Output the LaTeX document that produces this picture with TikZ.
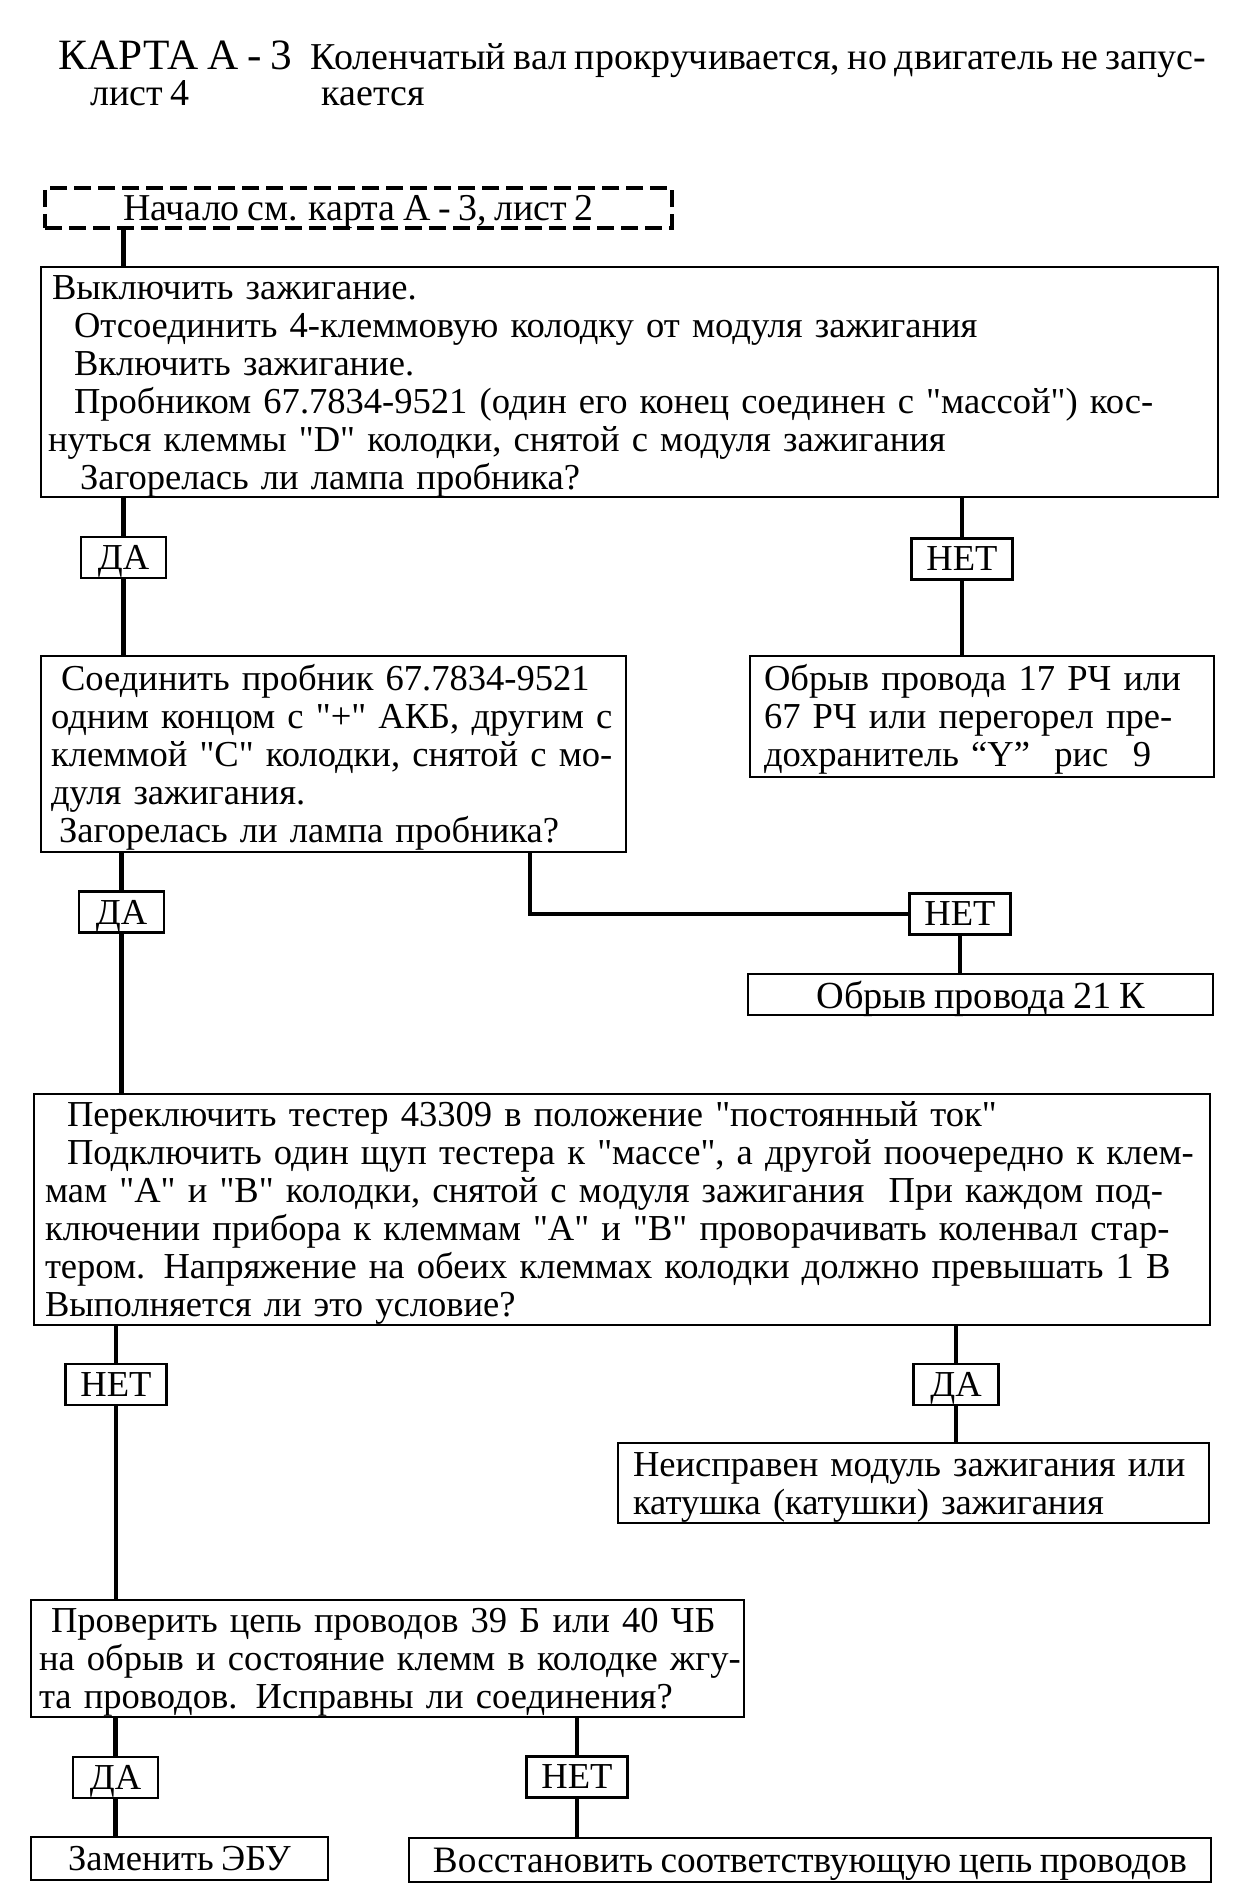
\documentclass[tikz,border=0pt]{standalone}
\usepackage{fontspec}
\setmainfont{Liberation Serif}[Ligatures=TeXOff, WordSpace=0.8]
\usepackage{tikz}
\usetikzlibrary{calc}
\usetikzlibrary{positioning}
\newcommand{\cardfont}{\fontsize{10.4}{10.8}\selectfont}
\newcommand{\widefont}{\fontsize{10.8}{11}\selectfont}
\tikzset{
    % рамка с текстом шага (отступы строк задаются вручную)
    stepbox/.style={
        draw,
        rectangle,
        line width=0.7pt,
        inner xsep=0pt,
        inner ysep=0pt,
        text height=9.2pt,
        align=left,
        font=\cardfont
    },
    % рамка с текстом по центру
    endbox/.style={
        draw,
        rectangle,
        line width=0.7pt,
        inner sep=0pt,
        text depth=0pt,
        align=center,
        font=\cardfont
    },
    % штриховая рамка начала
    startbox/.style={
        endbox,
        line width=1pt,
        dash pattern=on 1.7mm off 0.7mm
    },
    % ответы ДА / НЕТ
    yesbox/.style={
        endbox,
        minimum width=8.5mm,
        minimum height=4.1mm
    },
    nobox/.style={
        endbox,
        minimum width=10.1mm,
        minimum height=4.1mm
    },
    % соединительная линия
    link/.style={
        line width=1.2pt
    }
}

\begin{document}
\begin{tikzpicture}[x=0.1mm,y=-0.1mm]
\useasboundingbox (0,0) rectangle (1235,1898);

% ===================== Заголовок =====================
\node[font=\fontsize{12.3}{13}\selectfont, anchor=base west, inner sep=0pt] (card) at (58,70) {КАРТА А - 3};
\node[font=\widefont, anchor=base west, inner sep=0pt] (title) at (310,70) {Коленчатый вал прокручивается, но двигатель не запус-};
\node[font=\widefont, anchor=base west, inner sep=0pt] (sheet) at (90,106) {лист 4};
\node[font=\widefont, anchor=base west, inner sep=0pt] (titlecont) at (321,106) {кается};

% ===================== Начало =====================
\node[startbox, font=\widefont, minimum width=62.7mm, minimum height=4mm] (start) at (358.5,208) {Начало см. карта А - 3, лист 2};

% ===================== Шаг 1 =====================
\node[stepbox, text width=117.7mm, minimum height=23mm] (q1) at (629.5,382) {%
\hspace*{1.1mm}Выключить зажигание.\\
\hspace*{3.3mm}Отсоединить 4-клеммовую колодку от модуля зажигания\\
\hspace*{3.3mm}Включить зажигание.\\
\hspace*{3.3mm}Пробником 67.7834-9521 (один его конец соединен с "массой") кос-\\
\hspace*{0.7mm}нуться клеммы "D" колодки, снятой с модуля зажигания\\
\hspace*{3.9mm}Загорелась ли лампа пробника?};

\node[yesbox] (da1) at (123.5,557.5) {ДА};
\node[nobox] (net1) at (962,559) {НЕТ};

% ===================== Шаг 2 =====================
\node[stepbox, text width=58.5mm, minimum height=19.6mm] (q2) at (333.5,754) {%
\hspace*{2mm}Соединить пробник 67.7834-9521\\
\hspace*{1mm}одним концом с "+" АКБ, другим с\\
\hspace*{1mm}клеммой "С" колодки, снятой с мо-\\
\hspace*{1mm}дуля зажигания.\\
\hspace*{1.8mm}Загорелась ли лампа пробника?};

\node[stepbox, text width=46.4mm, minimum height=12.1mm] (r1) at (982,716.5) {%
\hspace*{1.4mm}Обрыв провода 17 РЧ или\\
\hspace*{1.4mm}67 РЧ или перегорел пре-\\
\hspace*{1.4mm}дохранитель “Y”~ рис~ 9};

\node[yesbox] (da2) at (121.5,912) {ДА};
\node[nobox] (net2) at (960,914) {НЕТ};
\coordinate (bend2) at (530,914);

\node[endbox, font=\fontsize{10.9}{11}\selectfont, minimum width=46.5mm, minimum height=4.1mm] (r2) at (980.5,994.5) {Обрыв провода 21 К};

% ===================== Шаг 3 =====================
\node[stepbox, text width=117.6mm, minimum height=23.1mm] (q3) at (622,1209.5) {%
\hspace*{3.3mm}Переключить тестер 43309 в положение "постоянный ток"\\
\hspace*{3.3mm}Подключить один щуп тестера к "массе", а другой поочередно к клем-\\
\hspace*{1.1mm}мам "А" и "В" колодки, снятой с модуля зажигания~ При каждом под-\\
\hspace*{1.1mm}ключении прибора к клеммам "А" и "В" проворачивать коленвал стар-\\
\hspace*{1.1mm}тером. Напряжение на обеих клеммах колодки должно превышать 1 В\\
\hspace*{1.1mm}Выполняется ли это условие?};

\node[nobox] (net3) at (116,1384.5) {НЕТ};
\node[yesbox] (da3) at (956,1384.5) {ДА};

\node[stepbox, text width=59.1mm, minimum height=8mm] (r3) at (913.5,1483) {%
\hspace*{1.5mm}Неисправен модуль зажигания или\\
\hspace*{1.5mm}катушка (катушки) зажигания};

% ===================== Шаг 4 =====================
\node[stepbox, text width=71.3mm, minimum height=11.7mm] (q4) at (387.5,1658.5) {%
\hspace*{2mm}Проверить цепь проводов 39 Б или 40 ЧБ\\
\hspace*{0.8mm}на обрыв и состояние клемм в колодке жгу-\\
\hspace*{0.8mm}та проводов. Исправны ли соединения?};

\node[yesbox] (da4) at (115.5,1777.5) {ДА};
\node[nobox] (net4) at (577,1777) {НЕТ};

\node[endbox, minimum width=29.7mm, minimum height=4.3mm] (r4) at (179.5,1858.5) {Заменить ЭБУ};
\node[endbox, font=\fontsize{10.6}{11}\selectfont, minimum width=80.2mm, minimum height=4.4mm] (r5) at (810,1860) {Восстановить соответствующую цепь проводов};

% ===================== Линии =====================
\draw[link] (start.south -| da1) -- (da1 |- q1.north);
\draw[link] (da1 |- q1.south) -- (da1);
\draw[link] (da1) -- (da1 |- q2.north);
\draw[link] (net1 |- q1.south) -- (net1);
\draw[link] (net1) -- (net1 |- r1.north);
\draw[link] (da2 |- q2.south) -- (da2);
\draw[link] (da2) -- (da2 |- q3.north);
\draw[link] (bend2 |- q2.south) |- (net2);
\draw[link] (net2) -- (net2 |- r2.north);
\draw[link] (net3 |- q3.south) -- (net3);
\draw[link] (net3) -- (net3 |- q4.north);
\draw[link] (da3 |- q3.south) -- (da3);
\draw[link] (da3) -- (da3 |- r3.north);
\draw[link] (da4 |- q4.south) -- (da4);
\draw[link] (da4) -- (da4 |- r4.north);
\draw[link] (net4 |- q4.south) -- (net4);
\draw[link] (net4) -- (net4 |- r5.north);
\end{tikzpicture}
\end{document}
